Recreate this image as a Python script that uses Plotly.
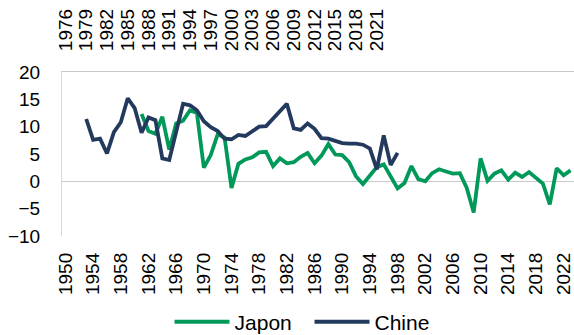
import plotly.graph_objects as go

# --- data ---
japon_years = list(range(1961, 2024))
japon_values = [12.3, 9.2, 8.7, 11.8, 5.8, 10.6, 11.1, 13.0, 12.5, 2.5,
                4.8, 8.6, 8.0, -1.2, 3.2, 4.0, 4.4, 5.3, 5.4, 2.8,
                4.2, 3.3, 3.5, 4.5, 5.2, 3.3, 4.7, 6.8, 4.9, 4.8,
                3.5, 0.9, -0.5, 1.1, 2.6, 3.1, 1.0, -1.3, -0.3, 2.8,
                0.4, 0.0, 1.5, 2.2, 1.8, 1.4, 1.5, -1.2, -5.7, 4.2,
                0.1, 1.4, 2.0, 0.3, 1.6, 0.8, 1.7, 0.6, -0.4, -4.2,
                2.4, 1.1, 2.0]

chine_years = list(range(1979, 2025))   # positions read on the top axis
chine_values = [11.4, 7.6, 7.8, 5.1, 9.0, 10.8, 15.2, 13.4, 8.9, 11.7,
                11.2, 4.2, 3.9, 9.3, 14.2, 13.9, 13.0, 11.0, 9.9, 9.2,
                7.8, 7.7, 8.5, 8.3, 9.1, 10.0, 10.1, 11.4, 12.7, 14.2,
                9.7, 9.4, 10.6, 9.6, 7.9, 7.8, 7.4, 7.0, 6.9, 6.9,
                6.7, 6.0, 2.2, 8.4, 3.0, 5.2]

bottom_ticks = list(range(1950, 2023, 4))
top_ticks = list(range(1976, 2022, 3))
y_ticks = [-10, -5, 0, 5, 10, 15, 20]

GREEN = "#00995A"
NAVY = "#233A5E"
GREY = "#C9C9C9"
FONT = "Liberation Sans, Arial, sans-serif"

fig = go.Figure()
fig.add_trace(go.Scatter(x=japon_years, y=japon_values, name="Japon",
                         mode="lines", line=dict(color=GREEN, width=3.8),
                         xaxis="x", yaxis="y"))
fig.add_trace(go.Scatter(x=chine_years, y=chine_values, name="Chine",
                         mode="lines", line=dict(color=NAVY, width=3.8),
                         xaxis="x2", yaxis="y"))

fig.update_layout(
    width=574, height=335,
    margin=dict(l=62, r=0, t=72, b=99, autoexpand=False),
    paper_bgcolor="white", plot_bgcolor="white",
    font=dict(family=FONT, size=19, color="#000000"),
    showlegend=True,
    legend=dict(orientation="h", x=0.21, xanchor="left", y=-0.525,
                yanchor="middle", font=dict(size=21), traceorder="normal",
                bgcolor="rgba(0,0,0,0)", itemwidth=55,
                entrywidth=70, entrywidthmode="pixels"),
    xaxis=dict(range=[1949.5, 2023.5], tickmode="array",
               tickvals=bottom_ticks, ticktext=[str(t) for t in bottom_ticks],
               tickangle=-90, showgrid=False, zeroline=False, showline=False,
               ticks="", ticklabelstandoff=12, automargin=False),
    xaxis2=dict(range=[1975.5, 2049.5], overlaying="x", side="top",
                anchor="y", tickmode="array", tickvals=top_ticks,
                ticktext=[str(t) for t in top_ticks], tickangle=-90,
                showgrid=False, zeroline=False, showline=True,
                linecolor=GREY, linewidth=1, ticks="",
                ticklabelstandoff=16, automargin=False),
    yaxis=dict(range=[-10, 20], tickmode="array", tickvals=y_ticks,
               showgrid=False, zeroline=True, zerolinecolor=GREY,
               zerolinewidth=1, showline=True, linecolor="#D9D9D9",
               linewidth=1, ticks="", ticklabelstandoff=17,
               automargin=False),
)

fig.write_html("out.html")
